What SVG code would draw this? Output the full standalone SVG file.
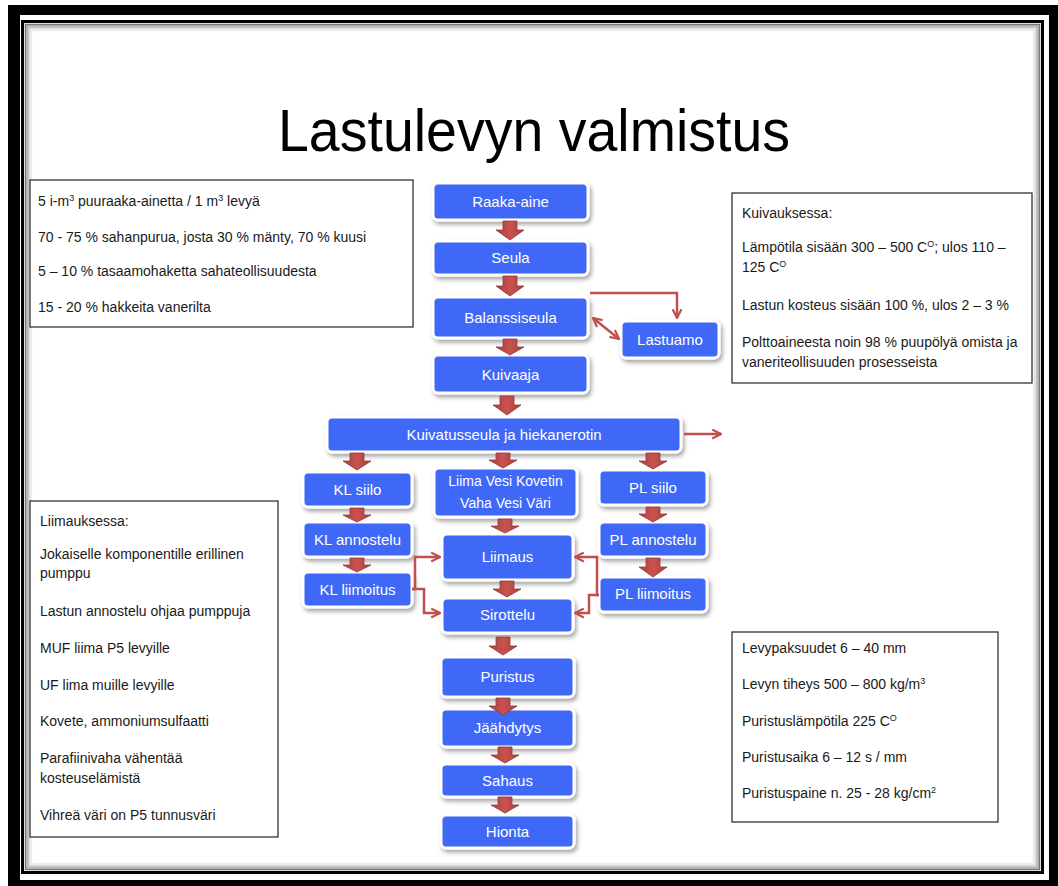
<svg xmlns="http://www.w3.org/2000/svg" width="1058" height="886" viewBox="0 0 1058 886">
<defs>
<style>
.node rect{fill:#3F67F7;stroke:#ffffff;stroke-width:3;filter:url(#sh)}
.node text{fill:#ffffff;font-family:"Liberation Sans",Arial,sans-serif;font-size:15px;text-anchor:middle}
.box rect{fill:#ffffff;stroke:#333333;stroke-width:1.3}
.box text{fill:#1a1a1a;font-family:"Liberation Sans",Arial,sans-serif;font-size:14px}
.blk{fill:url(#ag);stroke:#8E3A37;stroke-width:0.8}
.ln{fill:none;stroke:#C0504D;stroke-width:2.5}
</style>
<linearGradient id="ag" x1="0" y1="0" x2="1" y2="0">
<stop offset="0" stop-color="#A8403D"/><stop offset="0.5" stop-color="#C9524E"/><stop offset="1" stop-color="#A8403D"/>
</linearGradient>
<filter id="sh" x="-20%" y="-30%" width="140%" height="170%">
<feDropShadow dx="2" dy="3" stdDeviation="2" flood-color="#000" flood-opacity="0.35"/>
</filter>
<marker id="ah" viewBox="0 0 10 10" refX="9" refY="5" markerWidth="11" markerHeight="11" markerUnits="userSpaceOnUse" orient="auto-start-reverse">
<path d="M1,1 L9,5 L1,9" fill="none" stroke="#C0504D" stroke-width="2"/>
</marker>
</defs>
<rect width="1058" height="886" fill="#ffffff"/>
<rect x="8" y="5" width="1050" height="881" fill="#000000"/>
<rect x="20" y="15" width="1029" height="865" fill="#ffffff"/>
<rect x="22.5" y="21.5" width="1020" height="851" fill="#ffffff" stroke="#000000" stroke-width="3"/>
<rect x="25.5" y="24.5" width="1014" height="845" fill="none" stroke="#777" stroke-width="1.5"/>
<rect x="27" y="26" width="1011" height="842" fill="none" stroke="#a0a0a0" stroke-width="1.5"/>
<rect x="28.5" y="27.5" width="1008" height="839" fill="none" stroke="#c4c4c4" stroke-width="1.5"/>
<rect x="30" y="29" width="1005" height="836" fill="none" stroke="#dddddd" stroke-width="1.5"/>
<rect x="31.5" y="30.5" width="1002" height="833" fill="none" stroke="#eeeeee" stroke-width="1.5"/>

<text x="534" y="151" font-family="Liberation Sans,Arial,sans-serif" font-size="59" textLength="512" lengthAdjust="spacingAndGlyphs" text-anchor="middle" fill="#000">Lastulevyn valmistus</text>

<g id="box-raaka-aine" class="box">
<rect x="30" y="180" width="383" height="147"/>
<text x="38" y="206">5 i-m<tspan font-size="9" dy="-5">3</tspan><tspan dy="5"> puuraaka-ainetta / 1 m</tspan><tspan font-size="9" dy="-5">3</tspan><tspan dy="5"> levyä</tspan></text>
<text x="38" y="242">70 - 75 % sahanpurua, josta 30 % mänty, 70 % kuusi</text>
<text x="38" y="276">5 – 10 % tasaamohaketta sahateollisuudesta</text>
<text x="38" y="312">15 - 20 % hakkeita vanerilta</text>
</g>
<g id="box-kuivaus" class="box">
<rect x="732" y="193" width="300" height="190"/>
<text x="742" y="218">Kuivauksessa:</text>
<text x="742" y="252">Lämpötila sisään 300 – 500 C<tspan font-size="9" dy="-5">O</tspan><tspan dy="5">; ulos 110 –</tspan></text>
<text x="742" y="272">125 C<tspan font-size="9" dy="-5">O</tspan></text>
<text x="742" y="310">Lastun kosteus sisään 100 %, ulos 2 – 3 %</text>
<text x="742" y="347">Polttoaineesta noin 98 % puupölyä omista ja</text>
<text x="742" y="367">vaneriteollisuuden prosesseista</text>
</g>
<g id="box-liimaus" class="box">
<rect x="30" y="501" width="248" height="336"/>
<text x="40" y="526">Liimauksessa:</text>
<text x="40" y="559">Jokaiselle komponentille erillinen</text>
<text x="40" y="578">pumppu</text>
<text x="40" y="616">Lastun annostelu ohjaa pumppuja</text>
<text x="40" y="653">MUF liima P5  levyille</text>
<text x="40" y="690">UF lima muille levyille</text>
<text x="40" y="726">Kovete, ammoniumsulfaatti</text>
<text x="40" y="763">Parafiinivaha vähentää</text>
<text x="40" y="783">kosteuselämistä</text>
<text x="40" y="820">Vihreä väri on P5 tunnusväri</text>
</g>
<g id="box-levy" class="box">
<rect x="732" y="632" width="266" height="190"/>
<text x="742" y="653">Levypaksuudet 6 – 40 mm</text>
<text x="742" y="689">Levyn tiheys 500 – 800 kg/m<tspan font-size="9" dy="-5">3</tspan></text>
<text x="742" y="726">Puristuslämpötila 225 C<tspan font-size="9" dy="-5">O</tspan></text>
<text x="742" y="762">Puristusaika 6 – 12 s / mm</text>
<text x="742" y="798">Puristuspaine n. 25 - 28 kg/cm<tspan font-size="9" dy="-5">2</tspan></text>
</g>

<g id="n-raaka-aine" class="node"><rect x="433" y="183" width="155" height="37" rx="5"/><text x="510.5" y="207">Raaka-aine</text></g>
<g id="n-seula" class="node"><rect x="433" y="241" width="155" height="34" rx="5"/><text x="510.5" y="263">Seula</text></g>
<g id="n-balanssiseula" class="node"><rect x="433" y="297" width="155" height="41" rx="5"/><text x="510.5" y="323">Balanssiseula</text></g>
<g id="n-lastuamo" class="node"><rect x="621" y="321" width="98" height="37" rx="5"/><text x="670" y="345">Lastuamo</text></g>
<g id="n-kuivaaja" class="node"><rect x="433" y="355" width="155" height="38" rx="5"/><text x="510.5" y="380">Kuivaaja</text></g>
<g id="n-kuivatusseula" class="node"><rect x="327" y="417" width="354" height="35" rx="5"/><text x="504" y="440">Kuivatusseula ja hiekanerotin</text></g>
<g id="n-kl-siilo" class="node"><rect x="303" y="472" width="109" height="35" rx="5"/><text x="357.5" y="495">KL siilo</text></g>
<g id="n-liima" class="node"><rect x="434" y="468" width="143" height="49" rx="5"/><text x="505.5" y="486" style="font-size:14px">Liima Vesi Kovetin</text><text x="505.5" y="508" style="font-size:14px">Vaha Vesi Väri</text></g>
<g id="n-pl-siilo" class="node"><rect x="599" y="470" width="108" height="35" rx="5"/><text x="653" y="493">PL siilo</text></g>
<g id="n-kl-annostelu" class="node"><rect x="303" y="522" width="109" height="35" rx="5"/><text x="357.5" y="545">KL annostelu</text></g>
<g id="n-pl-annostelu" class="node"><rect x="599" y="522" width="108" height="35" rx="5"/><text x="653" y="545">PL annostelu</text></g>
<g id="n-liimaus" class="node"><rect x="442" y="534" width="131" height="46" rx="5"/><text x="507.5" y="562">Liimaus</text></g>
<g id="n-kl-liimoitus" class="node"><rect x="303" y="572" width="109" height="35" rx="5"/><text x="357.5" y="595">KL liimoitus</text></g>
<g id="n-pl-liimoitus" class="node"><rect x="599" y="577" width="108" height="35" rx="5"/><text x="653" y="599">PL liimoitus</text></g>
<g id="n-sirottelu" class="node"><rect x="442" y="598" width="131" height="35" rx="5"/><text x="507.5" y="620">Sirottelu</text></g>
<g id="n-puristus" class="node"><rect x="441" y="657" width="133" height="40" rx="5"/><text x="507.5" y="682">Puristus</text></g>
<g id="n-jaahdytys" class="node"><rect x="441" y="709" width="133" height="38" rx="5"/><text x="507.5" y="733">Jäähdytys</text></g>
<g id="n-sahaus" class="node"><rect x="441" y="764" width="133" height="33" rx="5"/><text x="507.5" y="786">Sahaus</text></g>
<g id="n-hionta" class="node"><rect x="441" y="815" width="133" height="33" rx="5"/><text x="507.5" y="837">Hionta</text></g>

<g id="connectors">
<path class="blk" d="M503,221 H517 V230 H524 L510,240 L496,230 H503 Z"/>
<path class="blk" d="M503,276 H517 V286 H524 L510,296 L496,286 H503 Z"/>
<path class="blk" d="M503,339 H517 V347 H524 L510,355 L496,347 H503 Z"/>
<path class="blk" d="M500,396 H514 V405 H521 L507,415 L493,405 H500 Z"/>
<path class="blk" d="M350,453 H364 V461 H371 L357,470 L343,461 H350 Z"/>
<path class="blk" d="M496,453 H510 V460 H517 L503,468 L489,460 H496 Z"/>
<path class="blk" d="M646,453 H660 V461 H667 L653,469 L639,461 H646 Z"/>
<path class="blk" d="M350,508 H364 V515 H371 L357,522 L343,515 H350 Z"/>
<path class="blk" d="M350,558 H364 V565 H371 L357,572 L343,565 H350 Z"/>
<path class="blk" d="M498,519 H512 V526 H519 L505,533 L491,526 H498 Z"/>
<path class="blk" d="M646,507 H660 V514 H667 L653,522 L639,514 H646 Z"/>
<path class="blk" d="M646,558 H660 V567 H667 L653,577 L639,567 H646 Z"/>
<path class="blk" d="M500,581 H514 V589 H521 L507,597 L493,589 H500 Z"/>
<path class="blk" d="M496,637 H510 V646 H517 L503,655 L489,646 H496 Z"/>
<path class="blk" d="M496,698 H510 V706 H517 L503,715 L489,706 H496 Z"/>
<path class="blk" d="M498,747 H512 V755 H519 L505,763 L491,755 H498 Z"/>
<path class="blk" d="M498,797 H512 V805 H519 L505,813 L491,805 H498 Z"/>
<path class="ln" d="M590,293 H677 V318" marker-end="url(#ah)"/>
<path class="ln" d="M593,318 L619,339" marker-start="url(#ah)" marker-end="url(#ah)"/>
<path class="ln" d="M684,434 H721" marker-end="url(#ah)"/>
<path class="ln" d="M412,589 H415 V557 H440" marker-end="url(#ah)"/>
<path class="ln" d="M412,589 H424 V613 H440" marker-end="url(#ah)"/>
<path class="ln" d="M599,595 H597 V557 H575" marker-end="url(#ah)"/>
<path class="ln" d="M599,595 H589 V613 H575" marker-end="url(#ah)"/>
</g>
</svg>
